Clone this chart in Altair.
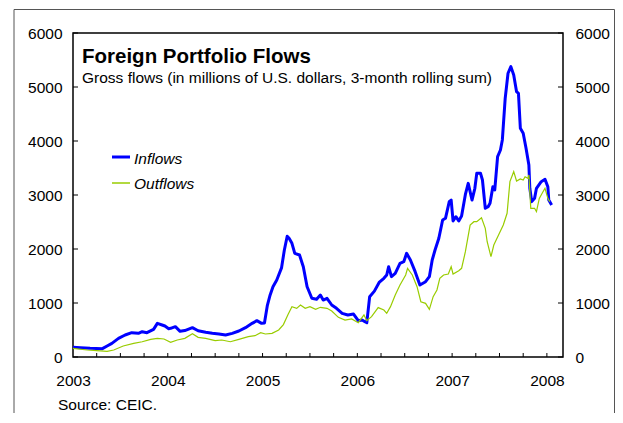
import altair as alt
import pandas as pd

# ---- data (decimal year, millions USD) ----
inflow_year = [2003.00, 2003.08, 2003.18, 2003.31, 2003.36, 2003.41, 2003.48, 2003.55, 2003.62, 2003.69,
               2003.73, 2003.78, 2003.85, 2003.89, 2003.94, 2003.97, 2004.01, 2004.03, 2004.08, 2004.13,
               2004.18, 2004.26, 2004.32, 2004.40, 2004.47, 2004.54, 2004.61, 2004.68, 2004.75, 2004.82,
               2004.89, 2004.94, 2004.99, 2005.02, 2005.05, 2005.08, 2005.11, 2005.15, 2005.20, 2005.23,
               2005.26, 2005.28, 2005.31, 2005.34, 2005.39, 2005.43, 2005.47, 2005.52, 2005.57, 2005.61,
               2005.64, 2005.68, 2005.73, 2005.78, 2005.84, 2005.90, 2005.96, 2006.01, 2006.05, 2006.08,
               2006.10, 2006.13, 2006.18, 2006.23, 2006.28, 2006.31, 2006.33, 2006.36, 2006.40, 2006.45,
               2006.49, 2006.52, 2006.56, 2006.61, 2006.66, 2006.72, 2006.76, 2006.79, 2006.82, 2006.86,
               2006.90, 2006.93, 2006.97, 2006.99, 2007.01, 2007.04, 2007.07, 2007.10, 2007.14, 2007.17,
               2007.21, 2007.24, 2007.26, 2007.30, 2007.32, 2007.35, 2007.38, 2007.40, 2007.43, 2007.45,
               2007.48, 2007.51, 2007.53, 2007.56, 2007.59, 2007.62, 2007.65, 2007.68, 2007.70, 2007.72,
               2007.75, 2007.78, 2007.81, 2007.82, 2007.84, 2007.87, 2007.89, 2007.94, 2007.98, 2008.01,
               2008.02, 2008.05]
inflow_value = [180, 172, 160, 155, 205, 253, 345, 407, 450, 438,
                469, 450, 512, 623, 593, 574, 525, 531, 562, 475,
                490, 543, 487, 457, 438, 426, 407, 438, 481, 543,
                623, 673, 623, 630, 950, 1150, 1300, 1426, 1650, 1981,
                2235, 2198, 2105, 1920, 1889, 1672, 1302, 1087, 1068, 1148,
                1055, 1087, 963, 901, 809, 778, 796, 673, 685, 654,
                635, 1117, 1220, 1380, 1457, 1519, 1672, 1488, 1549, 1735,
                1765, 1920, 1796, 1580, 1333, 1395, 1488, 1796, 1981, 2198,
                2537, 2568, 2877, 2907, 2520, 2598, 2520, 2610, 3010, 3216,
                2907, 3124, 3401, 3401, 3278, 2754, 2784, 2846, 3154, 3093,
                3710, 3833, 4019, 4790, 5254, 5377, 5222, 4914, 4883, 4235,
                4142, 3865, 3556, 3124, 2877, 2938, 3124, 3247, 3290, 3154,
                2907, 2815]

outflow_year = [2003.00, 2003.15, 2003.25, 2003.36, 2003.43, 2003.53, 2003.64, 2003.73, 2003.82, 2003.89,
                2003.96, 2004.03, 2004.10, 2004.18, 2004.26, 2004.32, 2004.40, 2004.50, 2004.57, 2004.66,
                2004.75, 2004.85, 2004.92, 2004.98, 2005.03, 2005.10, 2005.17, 2005.22, 2005.27, 2005.31,
                2005.36, 2005.40, 2005.45, 2005.50, 2005.56, 2005.61, 2005.68, 2005.73, 2005.80, 2005.87,
                2005.94, 2006.01, 2006.07, 2006.10, 2006.15, 2006.22, 2006.28, 2006.31, 2006.35, 2006.40,
                2006.45, 2006.51, 2006.53, 2006.58, 2006.63, 2006.67, 2006.72, 2006.76, 2006.80, 2006.84,
                2006.87, 2006.91, 2006.96, 2006.99, 2007.01, 2007.07, 2007.10, 2007.14, 2007.19, 2007.23,
                2007.26, 2007.31, 2007.35, 2007.37, 2007.41, 2007.44, 2007.49, 2007.54, 2007.58, 2007.61,
                2007.65, 2007.68, 2007.72, 2007.75, 2007.77, 2007.80, 2007.81, 2007.83, 2007.87, 2007.89,
                2007.92, 2007.95, 2007.98, 2008.01, 2008.03]
outflow_value = [160, 130, 117, 105, 130, 204, 253, 283, 327, 345,
                 333, 272, 315, 345, 432, 364, 345, 302, 315, 283,
                 327, 376, 395, 450, 426, 438, 500, 600, 790, 932,
                 901, 963, 901, 932, 883, 920, 901, 852, 735, 685,
                 704, 635, 778, 673, 747, 915, 870, 809, 932, 1148,
                 1333, 1519, 1642, 1519, 1302, 1024, 994, 883, 1117, 1241,
                 1457, 1519, 1537, 1672, 1537, 1598, 1642, 1950, 2444, 2506,
                 2506, 2580, 2383, 2135, 1857, 2074, 2259, 2444, 2661, 3247,
                 3432, 3259, 3296, 3278, 3339, 3309, 3370, 2754, 2754, 2691,
                 2938, 3031, 3124, 2938, 2877]

series_names = ["Inflows", "Outflows"]
series_colors = ["#0000FF", "#99CC00"]
y_ticks = [0, 1000, 2000, 3000, 4000, 5000, 6000]
year_labels = [2003, 2004, 2005, 2006, 2007, 2008]
quarter_ticks = [2003.25, 2003.5, 2003.75, 2004.0, 2004.25, 2004.5, 2004.75, 2005.0, 2005.25,
                 2005.5, 2005.75, 2006.0, 2006.25, 2006.5, 2006.75, 2007.0, 2007.25, 2007.5,
                 2007.75, 2008.0]

title_text = "Foreign Portfolio Flows"
subtitle_text = "Gross flows (in millions of U.S. dollars, 3-month rolling sum)"
source_text = "Source: CEIC."

FONT = "Liberation Sans"
W, H = 490, 324

df_in = pd.DataFrame({"year": inflow_year, "value": inflow_value, "series": series_names[0]})
df_out = pd.DataFrame({"year": outflow_year, "value": outflow_value, "series": series_names[1]})

xscale = alt.Scale(domain=[2003, 2008.17], nice=False, zero=False)
yscale = alt.Scale(domain=[0, 6000], nice=False, zero=True)

x_axis = alt.Axis(values=year_labels, format="d", ticks=False, tickSize=0, domain=False, grid=False,
                  labelPadding=16, labelFont=FONT, labelFontSize=15.5, labelColor="black",
                  labelBaseline="top", labelFlush=False, labelOverlap=False, title=None)
y_axis_left = alt.Axis(orient="left", values=y_ticks, format="d", ticks=False, tickSize=0, domain=False,
                       grid=False, labelPadding=11, labelFont=FONT, labelFontSize=15.5,
                       labelColor="black", labelFlush=False, labelOverlap=False, title=None)
y_axis_right = alt.Axis(orient="right", values=y_ticks, format="d", ticks=False, tickSize=0, domain=False,
                        grid=False, labelPadding=12, labelFont=FONT, labelFontSize=15.5,
                        labelColor="black", labelFlush=False, labelOverlap=False, title=None)

line_in = alt.Chart(df_in).mark_line(color=series_colors[0], strokeWidth=3, strokeJoin="round").encode(
    x=alt.X("year:Q", scale=xscale, axis=x_axis),
    y=alt.Y("value:Q", scale=yscale, axis=y_axis_left),
)
line_out = alt.Chart(df_out).mark_line(color=series_colors[1], strokeWidth=1.2).encode(
    x=alt.X("year:Q", scale=xscale, axis=x_axis),
    y=alt.Y("value:Q", scale=yscale, axis=None),
)

tick_df = pd.DataFrame({"v": y_ticks})
left_ticks = alt.Chart(tick_df).mark_rule(color="black", strokeWidth=1).encode(
    y=alt.Y("v:Q", scale=yscale, axis=None),
    x=alt.value(0), x2=alt.value(5),
)
right_ticks = alt.Chart(tick_df).mark_rule(color="black", strokeWidth=1).encode(
    y=alt.Y("v:Q", scale=yscale, axis=y_axis_right),
    x=alt.value(W - 5), x2=alt.value(W),
)
bottom_ticks = alt.Chart(pd.DataFrame({"q": quarter_ticks})).mark_rule(color="black", strokeWidth=1).encode(
    x=alt.X("q:Q", scale=xscale, axis=x_axis),
    y=alt.value(H - 4), y2=alt.value(H),
)

def text_layer(txt, x, y, size, weight="normal", style="normal"):
    return alt.Chart(pd.DataFrame({"t": [txt]})).mark_text(
        align="left", baseline="alphabetic", font=FONT, fontSize=size,
        fontWeight=weight, fontStyle=style, color="black"
    ).encode(x=alt.value(x), y=alt.value(y), text="t:N")

title = text_layer(title_text, 9, 29.5, 20.5, weight="bold")
subtitle = text_layer(subtitle_text, 9, 49.5, 15.5)
source = text_layer(source_text, -15, 377, 15.5)

leg_in_txt = text_layer(series_names[0], 61, 130.5, 15.5, style="italic")
leg_out_txt = text_layer(series_names[1], 61, 156, 15.5, style="italic")
one = pd.DataFrame({"k": [0]})
leg_in_line = alt.Chart(one).mark_rule(color=series_colors[0], strokeWidth=3).encode(
    x=alt.value(39), x2=alt.value(57), y=alt.value(124))
leg_out_line = alt.Chart(one).mark_rule(color=series_colors[1], strokeWidth=1.5).encode(
    x=alt.value(39), x2=alt.value(57), y=alt.value(150))

# outer frame (open at the bottom, like the cropped reference)
frame_top = alt.Chart(one).mark_rule(color="#555555", strokeWidth=1).encode(
    x=alt.value(-59), x2=alt.value(541.5), y=alt.value(-23.5))
frame_left = alt.Chart(one).mark_rule(color="#555555", strokeWidth=1).encode(
    x=alt.value(-59), y=alt.value(-23.5), y2=alt.value(400))
frame_right = alt.Chart(one).mark_rule(color="#555555", strokeWidth=1).encode(
    x=alt.value(541.5), y=alt.value(-23.5), y2=alt.value(400))

chart = alt.layer(
    frame_top, frame_left, frame_right,
    line_in, line_out, left_ticks, right_ticks, bottom_ticks,
    title, subtitle, source, leg_in_line, leg_out_line, leg_in_txt, leg_out_txt,
).resolve_scale(y="independent").properties(
    width=W, height=H,
    padding={"left": 65, "top": 25, "right": 52, "bottom": 56},
    autosize=alt.AutoSizeParams(type="none"),
    background="white",
).configure_view(stroke="black", strokeWidth=1.5)

chart.save("out.html", embed_options={"renderer": "svg", "actions": False})
